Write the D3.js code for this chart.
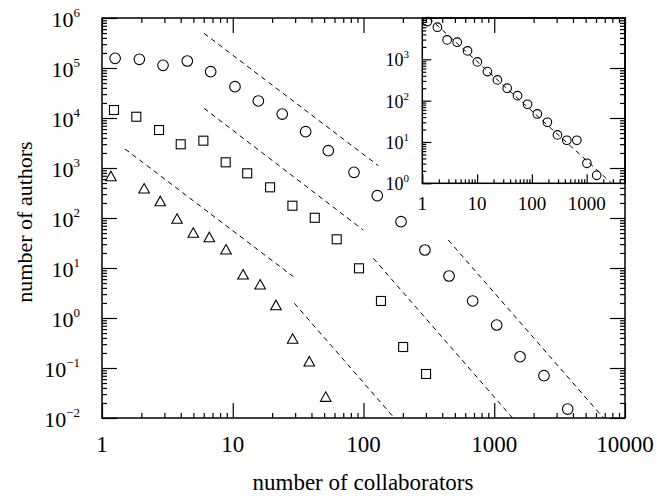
<!DOCTYPE html>
<html>
<head>
  <meta charset="utf-8">
  <title>number of collaborators</title>
  <style>
    body { margin: 0; padding: 0; background: white; }
    svg { display: block; font-family: "Liberation Serif", "Times New Roman", serif; }
    .frame { fill: none; stroke: black; stroke-width: 1.5; }
    .tick-line { stroke: black; stroke-width: 1.2; }
    .fit { fill: none; stroke: black; stroke-width: 1; stroke-dasharray: 5, 4; }
    .mark { fill: none; stroke: black; stroke-width: 1.1; }
  </style>
</head>
<body>
<div id="chart"></div>
<script src="https://d3js.org/d3.v7.min.js"></script>
<script>

// ---- data ----
var circleX = [1.26, 1.93, 2.93, 4.49, 6.78, 10.4, 15.7, 23.9, 36.1, 53.8, 84.6, 127.5, 193.6, 295, 451, 684, 1044, 1574, 2400, 3645]
var circleY = [156000, 149000, 113000, 138000, 84300, 42300, 21900, 12000, 5320, 2220, 820, 279, 84.3, 22.9, 6.92, 2.19, 0.724, 0.168, 0.0702, 0.0151]

var squareX = [1.235, 1.83, 2.73, 4.0, 5.96, 8.83, 12.9, 19.3, 28.6, 42.4, 62.4, 92.4, 136, 201, 301]
var squareY = [14450, 10600, 5750, 2980, 3520, 1300, 783, 411, 176, 101, 37.5, 9.86, 2.19, 0.263, 0.0759]

var triangleX = [1.17, 2.10, 2.79, 3.75, 4.99, 6.62, 8.88, 12.0, 16.2, 21.4, 28.7, 38.5, 51.4]
var triangleY = [670, 380, 212, 94.2, 49.4, 40.4, 22.9, 7.24, 4.57, 1.76, 0.375, 0.132, 0.0259]

var insetX = [1.235, 1.885, 2.84, 4.33, 6.69, 10.1, 15.4, 23.5, 35.4, 54.7, 83.4, 125.6, 191.7, 292.5, 433, 661, 1009, 1520]
var insetY = [8180, 5990, 2950, 2594, 1597, 865, 504, 317, 200, 132, 81.8, 47.6, 30, 14.8, 11, 11, 3.05, 1.56]

// dashed guide lines: [x0, y0, x1, y1]
var mainFits = [
  [6.03, 494000, 129.8, 1112],
  [445, 36.3, 6850, 0.01],
  [6.03, 15630, 99.6, 57.5],
  [119, 15.6, 1380, 0.01],
  [1.5, 2400, 29.1, 6.7],
  [29.6, 1.97, 172, 0.01]
]
var insetFits = [[1.33, 10000, 2858, 1]]

var xTicks = [1, 10, 100, 1000, 10000]
var yExps = [-2, -1, 0, 1, 2, 3, 4, 5, 6]
var insetXTicks = [1, 10, 100, 1000]
var insetYExps = [0, 1, 2, 3]

var width = 657, height = 496

var svg = d3.select("#chart").append("svg")
    .attr("width", width)
    .attr("height", height)

// ---- scales ----
var x = d3.scaleLog().domain([1, 10000]).range([102, 625])
var y = d3.scaleLog().domain([1e-2, 1e6]).range([418, 18])
var ix = d3.scaleLog().domain([1, 5000]).range([422.3, 625])
var iy = d3.scaleLog().domain([1, 1e4]).range([183.3, 18])

// minor tick values (2..9 times every decade inside domain)
function minors(lo, hi) {
  var out = []
  for (var e = Math.floor(Math.log10(lo)); e < Math.ceil(Math.log10(hi)); e++) {
    for (var k = 2; k < 10; k++) {
      var v = k * Math.pow(10, e)
      if (v > lo && v < hi) out.push(v)
    }
  }
  return out
}
function decades(lo, hi) {
  var out = []
  for (var e = Math.floor(Math.log10(lo) + 1e-9); e <= Math.floor(Math.log10(hi) + 1e-9); e++) out.push(Math.pow(10, e))
  return out
}

// inward ticks drawn with d3 axes, labels blank
function ticks(g, axisFn, scale, values, size) {
  g.call(axisFn(scale).tickValues(values).tickSize(-size).tickFormat(""))
  g.select(".domain").remove()
  g.selectAll(".tick line").attr("class", "tick-line")
}

function frameAxes(sx, sy, box, major, minor, sides) {
  var xd = sx.domain(), yd = sy.domain()
  var xMaj = decades(xd[0], xd[1]), xMin = minors(xd[0], xd[1])
  var yMaj = decades(yd[0], yd[1]), yMin = minors(yd[0], yd[1])
  sides.forEach(function (s) {
    var g = svg.append("g")
    var g2 = svg.append("g")
    if (s === "bottom") {
      g.attr("transform", "translate(0," + box[3] + ")"); g2.attr("transform", "translate(0," + box[3] + ")")
      ticks(g, d3.axisBottom, sx, xMaj, major); ticks(g2, d3.axisBottom, sx, xMin, minor)
    }
    if (s === "top") {
      g.attr("transform", "translate(0," + box[1] + ")"); g2.attr("transform", "translate(0," + box[1] + ")")
      ticks(g, d3.axisTop, sx, xMaj, major); ticks(g2, d3.axisTop, sx, xMin, minor)
    }
    if (s === "left") {
      g.attr("transform", "translate(" + box[0] + ",0)"); g2.attr("transform", "translate(" + box[0] + ",0)")
      ticks(g, d3.axisLeft, sy, yMaj, major); ticks(g2, d3.axisLeft, sy, yMin, minor)
    }
    if (s === "right") {
      g.attr("transform", "translate(" + box[2] + ",0)"); g2.attr("transform", "translate(" + box[2] + ",0)")
      ticks(g, d3.axisRight, sy, yMaj, major); ticks(g2, d3.axisRight, sy, yMin, minor)
    }
  })
  svg.append("rect").attr("class", "frame")
    .attr("x", box[0]).attr("y", box[1])
    .attr("width", box[2] - box[0]).attr("height", box[3] - box[1])
}

var mainBox = [102, 18, 625, 418]
var insetBox = [422.3, 18, 625, 183.3]

// clip paths
var defs = svg.append("defs")
defs.append("clipPath").attr("id", "clipMain").append("rect")
  .attr("x", mainBox[0]).attr("y", mainBox[1]).attr("width", mainBox[2] - mainBox[0]).attr("height", mainBox[3] - mainBox[1])
defs.append("clipPath").attr("id", "clipInset").append("rect")
  .attr("x", insetBox[0]).attr("y", insetBox[1]).attr("width", insetBox[2] - insetBox[0]).attr("height", insetBox[3] - insetBox[1])

// ---- main plot ----
frameAxes(x, y, mainBox, 15, 5, ["bottom", "top", "left", "right"])

svg.append("g").attr("clip-path", "url(#clipMain)")
  .selectAll("line").data(mainFits).enter().append("line")
  .attr("class", "fit")
  .attr("x1", function (d) { return x(d[0]) }).attr("y1", function (d) { return y(d[1]) })
  .attr("x2", function (d) { return x(d[2]) }).attr("y2", function (d) { return y(d[3]) })

svg.append("g").selectAll("circle").data(d3.zip(circleX, circleY)).enter().append("circle")
  .attr("class", "mark")
  .attr("cx", function (d) { return x(d[0]) })
  .attr("cy", function (d) { return y(d[1]) })
  .attr("r", 5.3)

svg.append("g").selectAll("rect").data(d3.zip(squareX, squareY)).enter().append("rect")
  .attr("class", "mark")
  .attr("x", function (d) { return x(d[0]) - 4.5 })
  .attr("y", function (d) { return y(d[1]) - 4.5 })
  .attr("width", 9).attr("height", 9)

svg.append("g").selectAll("path").data(d3.zip(triangleX, triangleY)).enter().append("path")
  .attr("class", "mark")
  .attr("d", function (d) {
    var cx = x(d[0]), cy = y(d[1])
    return "M" + cx + "," + (cy - 5.5) + "L" + (cx + 5.3) + "," + (cy + 4) + "L" + (cx - 5.3) + "," + (cy + 4) + "Z"
  })

// tick labels main
svg.append("g").selectAll("text").data(xTicks).enter().append("text")
  .attr("x", function (d) { return x(d) })
  .attr("y", 452)
  .attr("text-anchor", "middle")
  .style("font-size", "23px")
  .text(function (d) { return d })

var yl = svg.append("g").selectAll("text").data(yExps).enter().append("text")
  .attr("x", 80)
  .attr("y", function (d) { return y(Math.pow(10, d)) + 9 })
  .attr("text-anchor", "end")
  .style("font-size", "22px")
yl.append("tspan").text("10")
yl.append("tspan").attr("dy", -10).style("font-size", "13px")
  .text(function (d) { return d < 0 ? "\u2212" + (-d) : d })

svg.append("text")
  .attr("x", 363).attr("y", 490)
  .attr("text-anchor", "middle")
  .style("font-size", "23px")
  .text("number of collaborators")

svg.append("text")
  .attr("transform", "translate(32,222) rotate(-90)")
  .attr("text-anchor", "middle")
  .style("font-size", "22px")
  .text("number of authors")

// ---- inset ----
frameAxes(ix, iy, insetBox, 9, 4, ["bottom", "left"])

svg.append("g").attr("clip-path", "url(#clipInset)")
  .selectAll("line").data(insetFits).enter().append("line")
  .attr("class", "fit")
  .attr("x1", function (d) { return ix(d[0]) }).attr("y1", function (d) { return iy(d[1]) })
  .attr("x2", function (d) { return ix(d[2]) }).attr("y2", function (d) { return iy(d[3]) })

svg.append("g").selectAll("circle").data(d3.zip(insetX, insetY)).enter().append("circle")
  .attr("class", "mark")
  .attr("cx", function (d) { return ix(d[0]) })
  .attr("cy", function (d) { return iy(d[1]) })
  .attr("r", 4.3)

svg.append("g").selectAll("text").data(insetXTicks).enter().append("text")
  .attr("x", function (d) { return ix(d) })
  .attr("y", 210)
  .attr("text-anchor", "middle")
  .style("font-size", "19px")
  .text(function (d) { return d })

var il = svg.append("g").selectAll("text").data(insetYExps).enter().append("text")
  .attr("x", 409)
  .attr("y", function (d) { return iy(Math.pow(10, d)) + 7 })
  .attr("text-anchor", "end")
  .style("font-size", "18px")
il.append("tspan").text("10")
il.append("tspan").attr("dy", -8).style("font-size", "11px")
  .text(function (d) { return d })

</script>
</body>
</html>
